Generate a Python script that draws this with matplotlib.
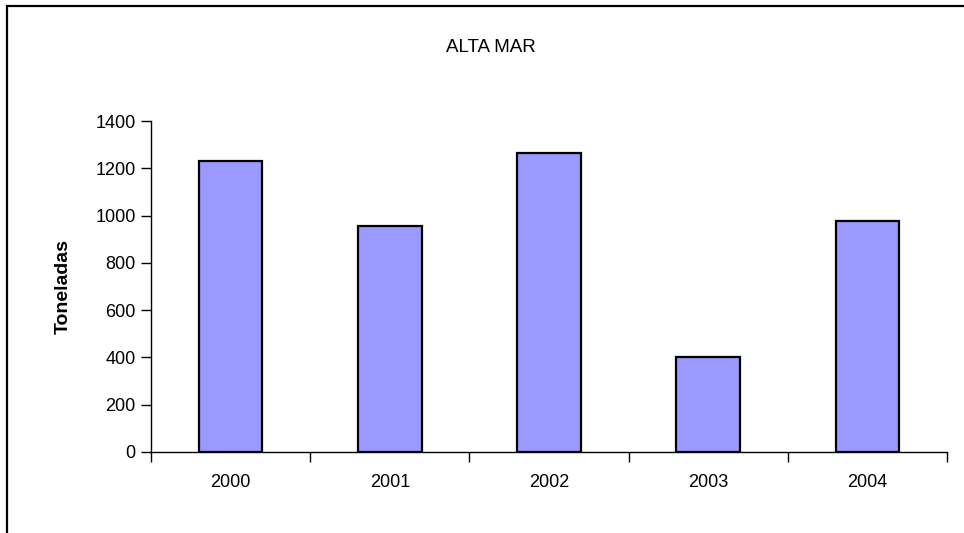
import matplotlib
matplotlib.use("Agg")
import matplotlib.pyplot as plt
from matplotlib.patches import Rectangle

years = ["2000", "2001", "2002", "2003", "2004"]
toneladas = [1230, 955, 1265, 402, 975]
y_ticks = [0, 200, 400, 600, 800, 1000, 1200, 1400]

plt.rcParams["font.family"] = ["Liberation Sans", "DejaVu Sans"]

W, H = 964, 533
fig = plt.figure(figsize=(W / 100, H / 100), dpi=100)
fig.patch.set_facecolor("white")

# outer chart frame (runs off the right and bottom edges)
fig.add_artist(Rectangle((7 / W, -0.2), 1.2, 1.2 - 6 / H,
                         transform=fig.transFigure, fill=False,
                         edgecolor="black", linewidth=1.6))

ax = fig.add_axes([151 / W, 1 - 452 / H, (947 - 151) / W, (452 - 121) / H])
x = list(range(len(years)))
ax.bar(x, toneladas, width=0.4, color="#9999FF", edgecolor="black",
       linewidth=1.6, zorder=3)

ax.set_xlim(-0.5, len(years) - 0.5)
ax.set_ylim(0, 1400)
ax.set_yticks(y_ticks)
ax.set_yticklabels([str(v) for v in y_ticks], fontsize=13)

# category labels centred under bars, ticks on category boundaries
ax.set_xticks([i - 0.5 for i in range(len(years) + 1)])
ax.set_xticklabels([])
ax.set_xticks(x, minor=True)
ax.set_xticklabels(years, minor=True, fontsize=13)
ax.tick_params(axis="x", which="minor", length=0, pad=16)
ax.tick_params(axis="x", which="major", length=7, width=1, direction="out")
ax.tick_params(axis="y", length=7, width=1, direction="out", pad=4)

for s in ["top", "right"]:
    ax.spines[s].set_visible(False)
for s in ["left", "bottom"]:
    ax.spines[s].set_linewidth(1)

ax.set_ylabel("Toneladas", fontsize=14, fontweight="bold", labelpad=17)

fig.text(491 / W, 1 - 47 / H, "ALTA MAR", ha="center", va="center", fontsize=13.5)

fig.savefig("out.png", dpi=100)
